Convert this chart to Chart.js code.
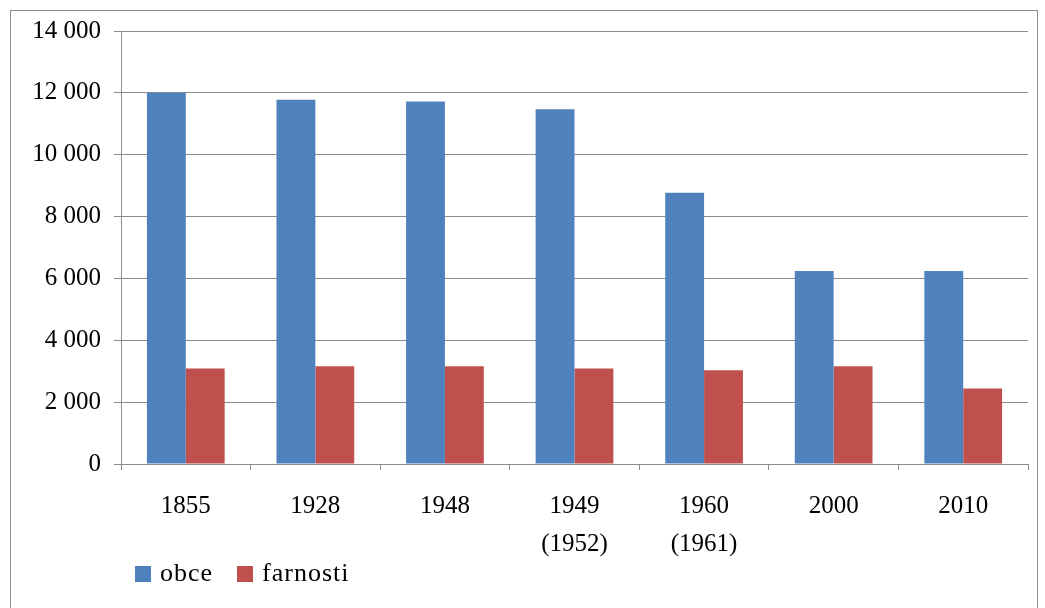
<!DOCTYPE html>
<html>
<head>
<meta charset="utf-8">
<script src="https://cdn.jsdelivr.net/npm/chart.js@4"></script>
<style>
  html, body { margin: 0; padding: 0; background: #fff; overflow: hidden; }
  #wrap { position: absolute; left: 0; top: 0; width: 1045px; height: 608px; }
  #frame { position: absolute; left: 10px; top: 10px; width: 1026px; height: 620px; border: 1px solid #8c8c8c; }
  #legend { position: absolute; left: 135px; top: 558px; font-family: "Liberation Serif", "Times New Roman", serif; font-size: 26px; letter-spacing: 1px; color: #000; line-height: 30px; }
  #legend span.item { display: inline-block; margin-right: 24px; }
  #legend span.box { display: inline-block; width: 16px; height: 16px; margin-right: 9px; vertical-align: -1px; }
</style>
</head>
<body>
<div id="wrap">
  <div id="frame"></div>
  <canvas id="myChart" width="1045" height="608"></canvas>
  <div id="legend"></div>
</div>
<script>
const categories = ["1855", "1928", "1948", ["1949", "(1952)"], ["1960", "(1961)"], "2000", "2010"];
const obce = [12000, 11780, 11720, 11470, 8770, 6240, 6240];
const farnosti = [3090, 3160, 3160, 3090, 3030, 3160, 2440];
const yTicks = [0, 2000, 4000, 6000, 8000, 10000, 12000, 14000];

const serif = "'Liberation Serif', 'Times New Roman', serif";
const gridColor = "#8c8c8c";

const formatThousands = (v) => String(v).replace(/\B(?=(\d{3})+(?!\d))/g, " ");

const ctx = document.getElementById("myChart");

const chart = new Chart(ctx, {
  type: "bar",
  data: {
    labels: categories,
    datasets: [
      {
        label: "obce",
        data: obce,
        backgroundColor: "#4F81BD",
        categoryPercentage: 0.6,
        barPercentage: 1,
      },
      {
        label: "farnosti",
        data: farnosti,
        backgroundColor: "#C0504D",
        categoryPercentage: 0.6,
        barPercentage: 1,
      },
    ],
  },
  options: {
    responsive: false,
    animation: false,
    layout: {
      padding: { top: 31, right: 17, left: 0, bottom: 0 },
    },
    scales: {
      x: {
        grid: {
          display: true,
          drawOnChartArea: false,
          drawTicks: true,
          tickLength: 6,
          color: gridColor,
        },
        border: { color: gridColor },
        ticks: {
          color: "#000",
          padding: 17,
          maxRotation: 0,
          font: { family: serif, size: 25, lineHeight: "38px" },
        },
        afterFit: (scale) => {
          scale.height = 144;
        },
      },
      y: {
        min: 0,
        max: 14000,
        afterBuildTicks: (scale) => {
          scale.ticks = yTicks.map((v) => ({ value: v }));
        },
        grid: {
          color: gridColor,
          tickLength: 7,
        },
        border: { color: gridColor },
        ticks: {
          color: "#000",
          padding: 13,
          font: { family: serif, size: 25 },
          callback: (v) => formatThousands(v),
        },
        afterFit: (scale) => {
          scale.width = 121;
        },
      },
    },
    plugins: {
      legend: { display: false },
      tooltip: { enabled: false },
    },
  },
});

const legend = document.getElementById("legend");
chart.data.datasets.forEach((ds) => {
  legend.insertAdjacentHTML(
    "beforeend",
    `<span class="item"><span class="box" style="background:${ds.backgroundColor}"></span>${ds.label}</span>`
  );
});
</script>
</body>
</html>
